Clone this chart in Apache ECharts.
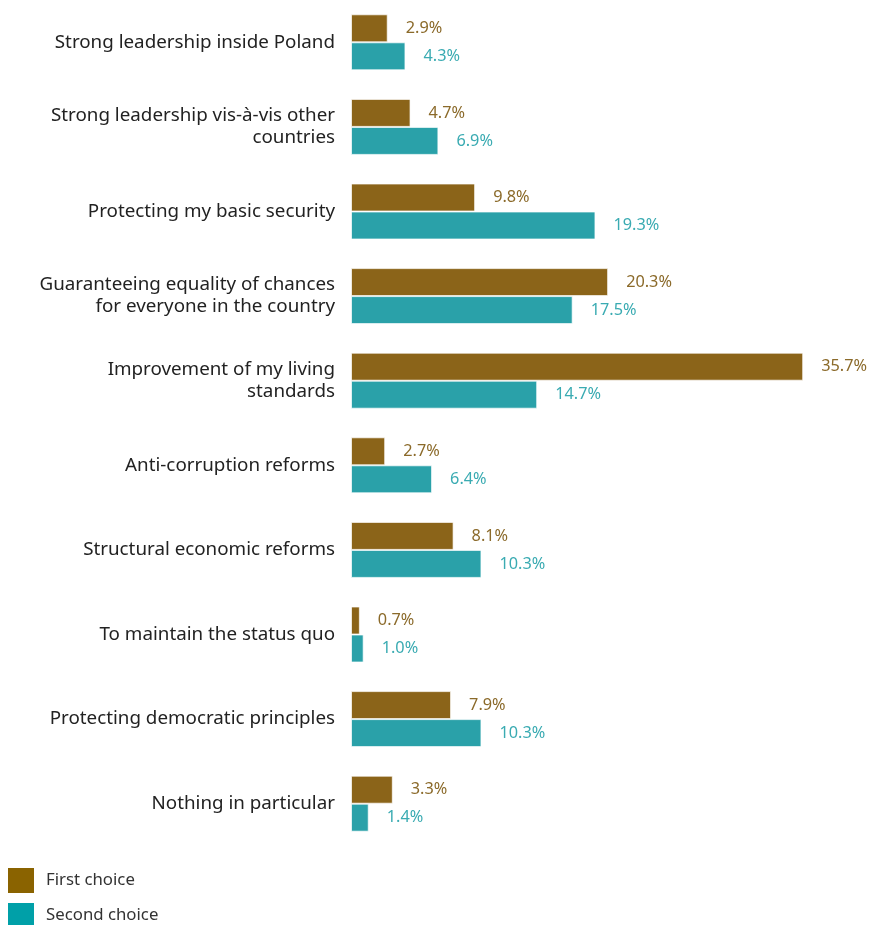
<!DOCTYPE html>
<html lang="en">
<head>
    <meta charset="UTF-8">
    <title>Priorities</title>
    <style>
        html, body {
            margin: 0;
            padding: 0;
            background: #ffffff;
        }
        #main {
            width: 869px;
            height: 925px;
        }
    </style>
    <script type="text/javascript" src="https://cdn.jsdelivr.net/npm/echarts@6/dist/echarts.min.js"></script>
</head>
<body>
<div id="main"></div>
<script type="text/javascript">
    var categories = ["Strong leadership inside Poland",
        "Strong leadership vis-à-vis other\ncountries",
        "Protecting my basic security",
        "Guaranteeing equality of chances\nfor everyone in the country",
        "Improvement of my living\nstandards",
        "Anti-corruption reforms",
        "Structural economic reforms",
        "To maintain the status quo",
        "Protecting democratic principles",
        "Nothing in particular"];
    var firstChoice = [2.9, 4.7, 9.8, 20.3, 35.7, 2.7, 8.1, 0.7, 7.9, 3.3];
    var secondChoice = [4.3, 6.9, 19.3, 17.5, 14.7, 6.4, 10.3, 1.0, 10.3, 1.4];

    var chart = echarts.init(document.getElementById('main'));

    function barSeries(name, data, color, labelColor) {
        return {
            name: name,
            type: 'bar',
            data: data,
            barWidth: 28,
            barGap: '0%',
            itemStyle: {
                color: color,
                borderColor: 'rgba(255,255,255,0.7)',
                borderWidth: 1
            },
            label: {
                show: true,
                position: 'right',
                distance: 18,
                color: labelColor,
                fontFamily: 'Noto Sans',
                fontSize: 16.3,
                formatter: function (p) {
                    return p.value.toFixed(1) + '%';
                }
            }
        };
    }

    // two legends so the second one is not wrapped into a new column
    function legendAt(top, name, color) {
        return {
            orient: 'vertical',
            left: 8,
            top: top,
            padding: 0,
            itemWidth: 26,
            itemHeight: 25,
            icon: 'rect',
            textStyle: {
                fontFamily: 'Noto Sans',
                fontSize: 16.8,
                color: '#333333',
                padding: [0, 0, 0, 7]
            },
            data: [{name: name, itemStyle: {color: color, borderWidth: 0}}]
        };
    }

    var option = {
        animation: false,
        textStyle: {fontFamily: 'Noto Sans'},
        grid: {
            left: 351,
            top: 0,
            width: 456,
            height: 846
        },
        legend: [
            legendAt(868, 'First choice', '#8a6300'),
            legendAt(903, 'Second choice', '#00a0a8')
        ],
        xAxis: {
            type: 'value',
            min: 0,
            max: 36,
            show: false
        },
        yAxis: {
            type: 'category',
            inverse: true,
            data: categories,
            axisLine: {show: false},
            axisTick: {show: false},
            axisLabel: {
                margin: 16,
                fontFamily: 'Noto Sans',
                fontSize: 18.8,
                lineHeight: 22,
                padding: [4, 0, 0, 0],
                color: '#222222',
                align: 'right'
            }
        },
        series: [
            barSeries('First choice', firstChoice, '#8b6419', '#8b6a2a'),
            barSeries('Second choice', secondChoice, '#2aa1a9', '#3aabb2')
        ]
    };
    chart.setOption(option);
</script>
</body>
</html>
